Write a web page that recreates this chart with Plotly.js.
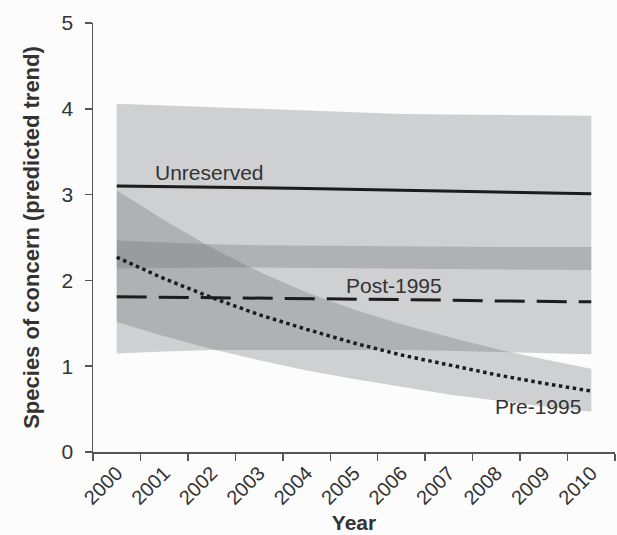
<!DOCTYPE html>
<html><head><meta charset="utf-8">
<script src="https://cdn.plot.ly/plotly-3.0.1.min.js"></script>
<style>html,body{margin:0;padding:0;background:#fcfcfc}</style>
</head><body><div id="chart" style="width:617px;height:535px"></div>
<script>
const years = ['2000','2001','2002','2003','2004','2005','2006','2007','2008','2009','2010'];

const unresMean  = [3.10, 3.095, 3.09, 3.08, 3.07, 3.06, 3.05, 3.04, 3.03, 3.02, 3.01];
const unresUpper = [4.06, 4.04, 4.02, 4.00, 3.98, 3.96, 3.94, 3.935, 3.93, 3.925, 3.92];
const unresLower = [2.14, 2.145, 2.15, 2.15, 2.15, 2.145, 2.14, 2.135, 2.13, 2.125, 2.12];

const postMean  = [1.81, 1.805, 1.80, 1.795, 1.79, 1.78, 1.775, 1.77, 1.76, 1.755, 1.75];
const postUpper = [2.465, 2.44, 2.42, 2.41, 2.405, 2.40, 2.40, 2.395, 2.39, 2.39, 2.39];
const postLower = [1.147, 1.17, 1.19, 1.19, 1.19, 1.19, 1.19, 1.18, 1.17, 1.155, 1.14];

const preMean  = [2.27, 2.02, 1.80, 1.60, 1.43, 1.27, 1.13, 1.01, 0.90, 0.80, 0.71];
const preUpper = [3.05, 2.70, 2.38, 2.10, 1.86, 1.66, 1.49, 1.34, 1.20, 1.08, 0.97];
const preLower = [1.515, 1.35, 1.20, 1.07, 0.95, 0.85, 0.76, 0.67, 0.60, 0.53, 0.47];

const seriesNames = ['Unreserved', 'Post-1995', 'Pre-1995'];
const yTicks = [0, 1, 2, 3, 4, 5];

const bandColor = 'rgba(104,105,108,0.3)';
const lineColor = '#1c1c1c';
const textColor = '#333333';
const FONT = 'Liberation Sans, Arial, sans-serif';

function band(upper, lower, name) {
  return {
    x: years.concat(years.slice().reverse()),
    y: upper.concat(lower.slice().reverse()),
    type: 'scatter', mode: 'lines', fill: 'toself',
    fillcolor: bandColor, line: {width: 0}, hoverinfo: 'skip',
    name: name + ' CI', showlegend: false
  };
}

const traces = [
  band(unresUpper, unresLower, seriesNames[0]),
  band(postUpper, postLower, seriesNames[1]),
  band(preUpper, preLower, seriesNames[2]),
  {x: years, y: unresMean, type: 'scatter', mode: 'lines', name: seriesNames[0],
   line: {color: lineColor, width: 3}},
  {x: years, y: postMean, type: 'scatter', mode: 'lines', name: seriesNames[1],
   line: {color: lineColor, width: 3, dash: '30px,12px'}},
  {x: years, y: preMean, type: 'scatter', mode: 'lines', name: seriesNames[2],
   line: {color: lineColor, width: 3.5, dash: 'dot'}}
];

const layout = {
  width: 617, height: 535,
  margin: {l: 93, r: 2, t: 23, b: 83},
  paper_bgcolor: '#fcfcfc', plot_bgcolor: '#fcfcfc',
  showlegend: false,
  font: {family: FONT, color: textColor},
  xaxis: {
    type: 'category', range: [-0.5, 10.5], tickson: 'boundaries',
    showgrid: false, zeroline: false, showline: true, linecolor: '#555', linewidth: 1.5,
    ticks: 'outside', ticklen: 7, tickcolor: '#555', tickwidth: 1.5,
    tickangle: -45, tickfont: {size: 20, family: FONT, color: textColor},
    title: {text: '<b>Year</b>', font: {size: 21, family: FONT, color: textColor}}
  },
  yaxis: {
    range: [0, 5], tickvals: yTicks,
    showgrid: false, zeroline: false, showline: true, linecolor: '#555', linewidth: 1.5,
    ticks: 'outside', ticklen: 7, tickcolor: '#555', tickwidth: 1.5,
    ticklabelstandoff: 7,
    tickfont: {size: 21, family: FONT, color: textColor},
    title: {text: '<b>Species of concern (predicted trend)</b>', standoff: 16,
            font: {size: 22, family: FONT, color: textColor}}
  },
  annotations: [
    {x: 1.95, y: 3.26, xref: 'x', yref: 'y', text: seriesNames[0], showarrow: false,
     font: {size: 21, family: FONT, color: textColor}},
    {x: 5.84, y: 1.94, xref: 'x', yref: 'y', text: seriesNames[1], showarrow: false,
     font: {size: 21, family: FONT, color: textColor}},
    {x: 8.87, y: 0.535, xref: 'x', yref: 'y', text: seriesNames[2], showarrow: false,
     font: {size: 21, family: FONT, color: textColor}}
  ]
};

Plotly.newPlot('chart', traces, layout, {displayModeBar: false, staticPlot: true});
</script>
</body></html>
